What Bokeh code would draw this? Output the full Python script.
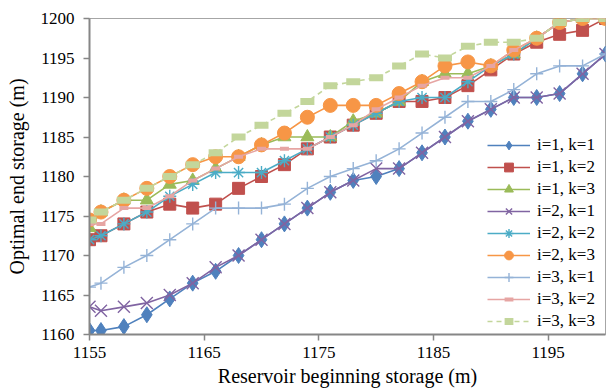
from bokeh.plotting import figure
from bokeh.models import Legend, LegendItem, FixedTicker, Range1d
from bokeh.embed import file_html
from bokeh.resources import INLINE

x = [1155, 1156, 1158, 1160, 1162, 1164, 1166, 1168, 1170, 1172, 1174, 1176,
     1178, 1180, 1182, 1184, 1186, 1188, 1190, 1192, 1194, 1196, 1198, 1200]

i1k1 = [1160.5, 1160.5, 1161, 1162.5, 1164.5, 1166.5, 1168, 1170, 1172, 1174, 1176, 1178,
        1179.5, 1180, 1181, 1183, 1185, 1187, 1188.5, 1190, 1190, 1190.5, 1193, 1195.5]
i1k2 = [1172, 1172.5, 1174, 1175.5, 1176.5, 1176, 1176.5, 1178.5, 1180, 1181.5, 1183.5, 1185,
        1186.5, 1188, 1189.5, 1189.5, 1190, 1191.5, 1193.5, 1195.5, 1197, 1198, 1198.5, 1200]
i1k3 = [1173.5, 1175.5, 1177, 1177, 1179, 1179.5, 1181, 1182.5, 1184, 1185, 1185, 1185,
        1187, 1188, 1189.5, 1192, 1193, 1193, 1194, 1195.5, 1197.5, 1199.5, 1200, 1200]
i2k1 = [1163.5, 1163, 1163.5, 1164, 1165, 1166.5, 1168.5, 1170, 1172, 1174, 1176, 1178,
        1179.5, 1181, 1181, 1183, 1185, 1187, 1188.5, 1190, 1190, 1190.5, 1193, 1195.5]
i2k2 = [1172, 1172.5, 1174, 1175.5, 1177.5, 1179, 1180.5, 1180.5, 1180.5, 1182, 1183.5, 1185,
        1186.5, 1188, 1189.5, 1190, 1190, 1192, 1194, 1195.5, 1197.5, 1199.5, 1200, 1200]
i2k3 = [1174.5, 1175.5, 1177, 1178.5, 1180, 1181.5, 1182.5, 1182.5, 1184, 1185.5, 1187.5, 1189,
        1189, 1189, 1190.5, 1192, 1194, 1194.5, 1194, 1196, 1197.5, 1199.5, 1200, 1200]
i3k1 = [1166, 1166.5, 1168.5, 1170, 1172, 1174, 1176, 1176, 1176, 1176.5, 1178.5, 1180,
        1181, 1182, 1183.5, 1185.5, 1187.5, 1189.5, 1189.5, 1191, 1193, 1194, 1194, 1195.5]
i3k2 = [1174, 1174, 1176, 1176, 1177.5, 1179.5, 1181, 1182.5, 1183.5, 1183.5, 1183.5, 1185,
        1186.5, 1188.5, 1190, 1191.5, 1192.5, 1192.5, 1194, 1196, 1197.5, 1199.5, 1200, 1200]
i3k3 = [1174.5, 1175.5, 1177, 1178.5, 1180, 1181.5, 1183, 1185, 1186.5, 1188, 1189.5, 1191.5,
        1192, 1192.5, 1194, 1195.5, 1195, 1196.5, 1197, 1197, 1197.5, 1199.5, 1200, 1200]

labels = ["i=1, k=1", "i=1, k=2", "i=1, k=3", "i=2, k=1", "i=2, k=2", "i=2, k=3",
          "i=3, k=1", "i=3, k=2", "i=3, k=3"]
series = [i1k1, i1k2, i1k3, i2k1, i2k2, i2k3, i3k1, i3k2, i3k3]
colors = ["#4F81BD", "#C0504D", "#9BBB59", "#8064A2", "#4BACC6", "#F79646",
          "#95B3D7", "#E6A5A3", "#C3D69B"]
markers = ["diamond", "square", "triangle", "x", "asterisk", "circle", "cross", "dash", "dash"]
msizes = [16, 12, 13, 17, 13, 14, 13, 9, 14]

x_ticks = [1155, 1165, 1175, 1185, 1195]
y_ticks = [1160, 1165, 1170, 1175, 1180, 1185, 1190, 1195, 1200]

FONT = "Liberation Serif"
AXC = "#868686"

p = figure(width=613, height=390, output_backend="svg", toolbar_location=None,
           x_range=Range1d(1155, 1200), y_range=Range1d(1160, 1200),
           min_border_left=89, min_border_right=8, min_border_top=18, min_border_bottom=56)
p.background_fill_color = "white"
p.border_fill_color = "white"
p.outline_line_color = "#A6A6A6"
p.outline_line_width = 1
p.xgrid.visible = False
p.ygrid.visible = False

items = []
for lab, ys, c, m, s in zip(labels, series, colors, markers, msizes):
    dash = "5 4" if lab == "i=3, k=3" else "solid"
    r1 = p.line(x, ys, line_color=c, line_width=1.6, line_dash=dash)
    if m == "dash":
        lw = 4 if lab == "i=3, k=2" else 7
        r2 = p.scatter(x, ys, marker="dash", size=s, line_color=c, line_width=lw)
    elif m in ("x", "asterisk", "cross"):
        r2 = p.scatter(x, ys, marker=m, size=s, line_color=c, line_width=1.4)
    else:
        r2 = p.scatter(x, ys, marker=m, size=s, fill_color=c, line_color=c, line_width=1)
    items.append(LegendItem(label=lab, renderers=[r1, r2]))

legend = Legend(items=items, location=(398, 2))
legend.label_text_font = FONT
legend.label_text_font_size = "17px"
legend.label_text_color = "black"
legend.glyph_width = 43
legend.glyph_height = 22
legend.label_height = 22
legend.spacing = 0
legend.padding = 0
legend.margin = 0
legend.label_standoff = 7
legend.border_line_color = None
legend.background_fill_color = "white"
legend.background_fill_alpha = 1
p.add_layout(legend, "center")

for ax in (p.xaxis[0], p.yaxis[0]):
    ax.axis_line_color = AXC
    ax.axis_line_width = 2
    ax.major_tick_line_color = AXC
    ax.major_tick_line_width = 1.5
    ax.major_tick_out = 6
    ax.major_tick_in = 0
    ax.minor_tick_line_color = None
    ax.major_label_text_font = FONT
    ax.major_label_text_font_size = "17px"
    ax.major_label_text_color = "black"
    ax.axis_label_text_font = FONT
    ax.axis_label_text_font_size = "20px"
    ax.axis_label_text_font_style = "normal"
    ax.axis_label_text_color = "black"

p.xaxis.ticker = FixedTicker(ticks=x_ticks)
p.yaxis.ticker = FixedTicker(ticks=y_ticks)
p.xaxis.axis_label = "Reservoir beginning storage (m)"
p.yaxis.axis_label = "Optimal end storage (m)"
p.xaxis.major_label_standoff = 6
p.yaxis.major_label_standoff = 9
p.xaxis.axis_label_standoff = 4
p.yaxis.axis_label_standoff = 10

open("out.html", "w").write(file_html(p, INLINE))
